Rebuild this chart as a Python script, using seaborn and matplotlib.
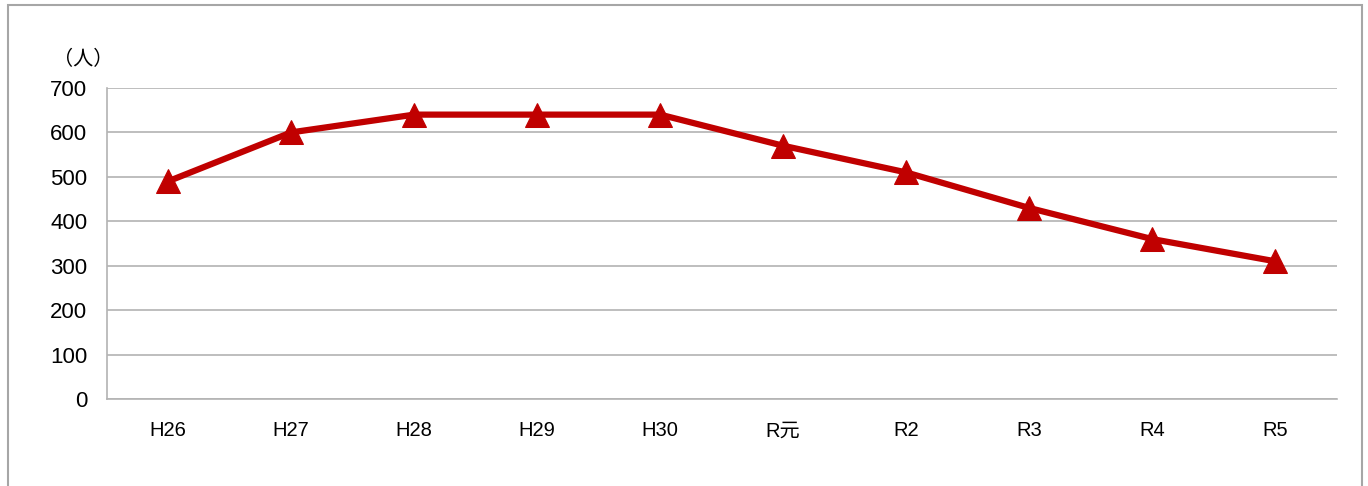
import pandas as pd
import matplotlib.pyplot as plt
import seaborn as sns
from matplotlib.patches import Rectangle

# data
years = ["H26", "H27", "H28", "H29", "H30", "R元", "R2", "R3", "R4", "R5"]
people = [490, 600, 640, 640, 640, 570, 510, 430, 360, 310]

df = pd.DataFrame({"year": years, "people": people})

sns.set_style("white")
plt.rcParams["font.family"] = ["Liberation Sans", "Noto Sans CJK JP"]
plt.rcParams["text.color"] = "black"
plt.rcParams["xtick.color"] = "black"
plt.rcParams["ytick.color"] = "black"

fig = plt.figure(figsize=(13.68, 4.86), dpi=100)
ax = fig.add_axes([0.078, 0.179, 0.899, 0.640])

sns.lineplot(
    data=df,
    x="year",
    y="people",
    color="#C00000",
    linewidth=4.5,
    marker="^",
    markersize=17,
    markeredgecolor="#C00000",
    ax=ax,
)

ax.set_xlim(-0.5, len(years) - 0.5)
ax.set_ylim(0, 700)
ax.set_yticks(range(0, 701, 100))
ax.grid(axis="y", color="#b3b3b3", linewidth=1.2)
ax.set_axisbelow(True)
ax.set_xlabel("")
ax.set_ylabel("")

for side in ["top", "right"]:
    ax.spines[side].set_visible(False)
for side in ["left", "bottom"]:
    ax.spines[side].set_color("#b3b3b3")
    ax.spines[side].set_linewidth(1.2)

ax.tick_params(axis="y", length=7, width=1.2, color="#b3b3b3",
               labelcolor="black", labelsize=16, pad=7)
ax.tick_params(axis="x", length=0, labelcolor="black", labelsize=14.5, pad=16)

fig.text(53 / 1368, 1 - 59 / 486, "（人）", fontsize=14.5,
         ha="left", va="center", color="black")

# outer border of the chart area
fig.patches.append(Rectangle((8 / 1368, -0.05), 1354 / 1368, 1.04,
                             transform=fig.transFigure, fill=False,
                             edgecolor="#a6a6a6", linewidth=1.5))

plt.savefig("out.png", dpi=100)
plt.close()
